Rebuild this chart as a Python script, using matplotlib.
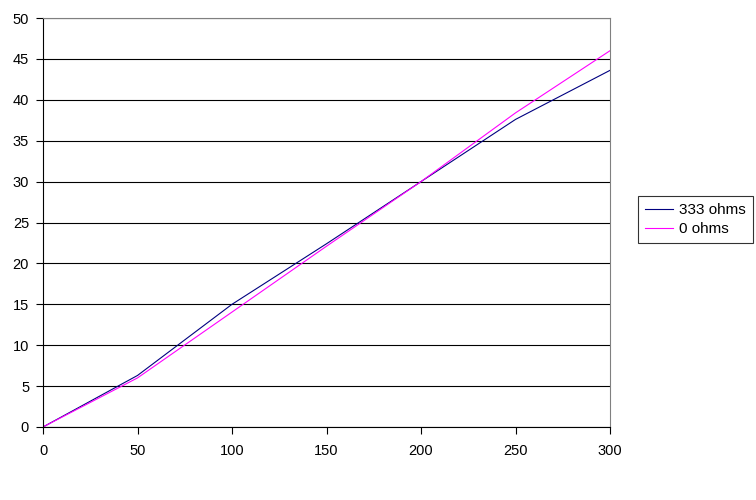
import numpy as np
import matplotlib.pyplot as plt

plt.rcParams['font.family'] = ['Liberation Sans', 'DejaVu Sans']

# data
x_vals = [0, 50, 100, 150, 200, 250, 300]
ohms_333 = [0, 6.3, 15.0, 22.4, 30.0, 37.6, 43.6]
ohms_0 = [0, 6.0, 14.05, 22.1, 30.0, 38.4, 46.0]
series_names = ['333 ohms', '0 ohms']

fig = plt.figure(figsize=(7.56, 5.0), dpi=100)
ax = fig.add_axes([43 / 756, 73 / 500, 567 / 756, 409 / 500])

ax.plot(x_vals, ohms_333, color='#000080', lw=0.8, label=series_names[0])
ax.plot(x_vals, ohms_0, color='#FF00FF', lw=0.8, label=series_names[1])

ax.set_xlim(0, 300)
ax.set_ylim(0, 50)
ax.set_xticks(np.arange(0, 301, 50))
ax.set_yticks(np.arange(0, 51, 5))
ax.yaxis.grid(True, color='black', lw=0.8)
ax.set_axisbelow(True)

for side in ['top', 'right']:
    ax.spines[side].set_color('#808080')
    ax.spines[side].set_linewidth(0.8)
for side in ['left', 'bottom']:
    ax.spines[side].set_color('black')
    ax.spines[side].set_linewidth(0.8)

ax.tick_params(axis='both', direction='out', length=5, width=0.8,
               labelsize=10.5, colors='black')
ax.tick_params(axis='y', pad=5)
ax.tick_params(axis='x', pad=7)

leg = fig.legend(loc='upper left', bbox_to_anchor=(638 / 756, 1 - 196 / 500),
                 frameon=True, fancybox=False, edgecolor='black',
                 fontsize=11, handlelength=1.85, handletextpad=0.4,
                 borderpad=0.45, labelspacing=0.35, borderaxespad=0)
leg.get_frame().set_linewidth(0.8)

fig.savefig('out.png', dpi=100)
